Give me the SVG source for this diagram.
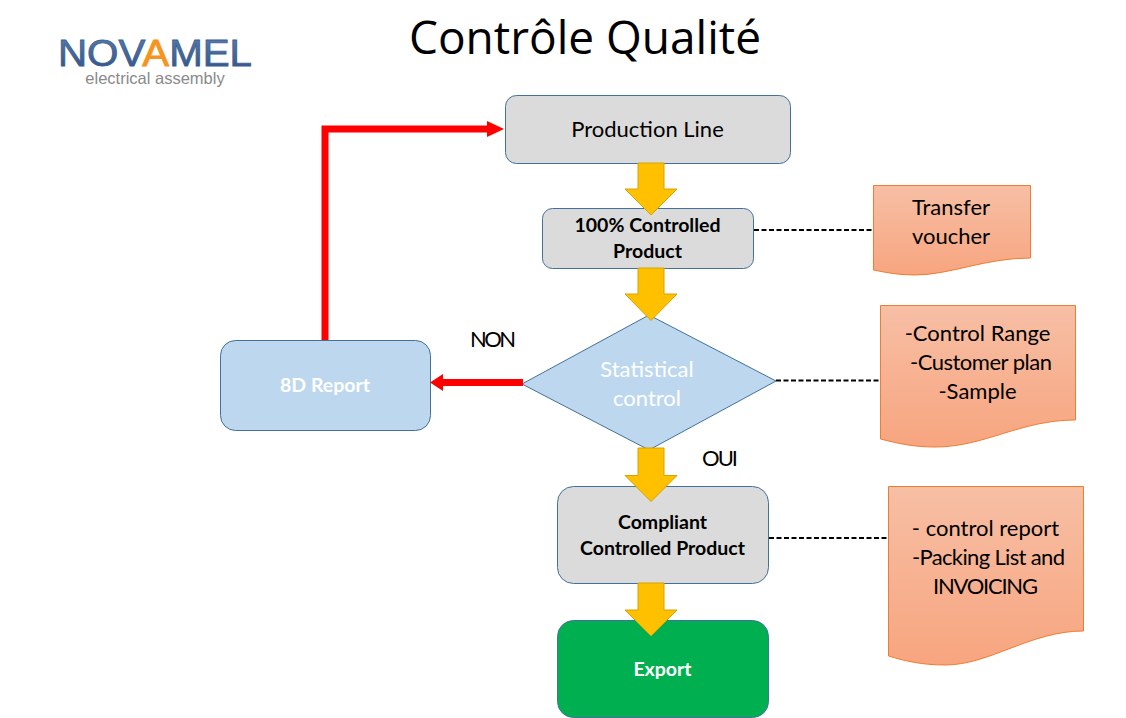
<svg xmlns="http://www.w3.org/2000/svg" width="1126" height="718" viewBox="0 0 1126 718">
<style>
text{font-family:Lato,"Liberation Sans",sans-serif;text-anchor:middle;fill:#000}
.n{fill:#dbdbdb;stroke:#41719c;stroke-width:1}
.b{fill:#bdd7ee;stroke:#41719c;stroke-width:1}
.d{fill:url(#g);stroke:#ed7d31;stroke-width:1}
.y{fill:#ffc000;stroke:#d6a300;stroke-width:1}
.t{font-size:22px}
.h{font-size:19.500px;font-weight:700}
.w{fill:#fff}
.k{stroke:#000;stroke-width:2;stroke-dasharray:5 2.500;fill:none}
</style>
<defs>
<linearGradient id="g" x1="0" y1="0" x2="0" y2="1"><stop offset="0" stop-color="#f7bfa5"/><stop offset="1" stop-color="#f7a57f"/></linearGradient>
<linearGradient id="lb" x1="0" y1="0" x2="0" y2="1"><stop offset="0" stop-color="#5b7fae"/><stop offset="1" stop-color="#2f4f85"/></linearGradient>
</defs>
<rect width="1126" height="718" fill="#fff"/>
<g id="title"><text x="585" y="54" style="font-family:'Open Sans',sans-serif;font-size:46px">Contrôle Qualité</text></g>
<g id="logo">
<text x="155" y="66" textLength="194" lengthAdjust="spacingAndGlyphs" style="font-family:'Liberation Sans',sans-serif;font-size:36px;fill:url(#lb);stroke:#3d5f92;stroke-width:.8">NOV<tspan fill="#f7941d" stroke="#f7941d">A</tspan>MEL</text>
<text x="155" y="84" style="font-family:'Liberation Sans',sans-serif;font-size:16.500px;fill:#8a8a8a">electrical assembly</text>
</g>
<g id="production"><rect class="n" x="505.500" y="95.500" width="285" height="68" rx="11"/><text class="t" x="647.500" y="137">Production Line</text></g>
<g id="controlled"><rect class="n" x="542.500" y="208.500" width="211" height="60" rx="10"/><text class="h" x="647.500" y="232">100% Controlled</text><text class="h" x="647.500" y="258">Product</text></g>
<g id="statistical"><path class="b" d="M649 315L776 381L649 450L522 384Z"/><text class="t w" x="647" y="377">Statistical</text><text class="t w" x="647" y="406">control</text></g>
<g id="report"><rect class="b" x="220.500" y="340.500" width="210" height="90" rx="15"/><text class="h w" x="325" y="392">8D Report</text></g>
<g id="compliant"><rect class="n" x="557.500" y="486.500" width="211" height="97" rx="16"/><text class="h" x="662.500" y="529">Compliant</text><text class="h" x="662.500" y="555">Controlled Product</text></g>
<g id="export"><rect x="557.500" y="620.500" width="211" height="97" rx="16" fill="#00b050" stroke="#41719c"/><text class="h w" x="662.500" y="676">Export</text></g>
<g id="doc1"><path class="d" d="M873.500 185.500H1030.500V258C985 258 950 275 915 275C900 275 888 273 873.500 270Z"/><text class="t" x="951" y="215">Transfer</text><text class="t" x="951" y="244">voucher</text></g>
<g id="doc2"><path class="d" d="M880.500 305.500H1075.500V420C1020 420 985 447 935 447C915 447 900 444 880.500 439Z"/><text class="t" x="977.500" y="341">-Control Range</text><text class="t" x="981" y="370" textLength="142">-Customer plan</text><text class="t" x="977.500" y="399">-Sample</text></g>
<g id="doc3"><path class="d" d="M888.500 486.500H1083.500V631C1030 631 990 665 945 665C922 665 905 661 888.500 656Z"/><text class="t" x="985.500" y="536">- control report</text><text class="t" x="988.500" y="565" textLength="153">-Packing List and</text><text class="t" x="985.500" y="594" textLength="105">INVOICING</text></g>
<g id="labels"><text class="t" x="493" y="347" textLength="46">NON</text><text class="t" x="720" y="466" textLength="36">OUI</text></g>
<g id="connectors">
<path class="y" d="M638 163H664V189H677L651 215L625 189H638Z"/>
<path class="y" d="M638 268H664V294H677L651 320.500L625 294H638Z"/>
<path class="y" d="M638 448H664V475.500H677L651 501.500L625 475.500H638Z"/>
<path class="y" d="M638 583H664V610H677L651 636L625 610H638Z"/>
<path d="M325 340V129H492" fill="none" stroke="#f00" stroke-width="7"/>
<path d="M487 121L504 129L487 137Z" fill="#f00"/>
<path d="M523 382.500H441" fill="none" stroke="#f00" stroke-width="7"/>
<path d="M443 374L430 382.500L443 391Z" fill="#f00"/>
<path class="k" d="M754 230H873"/>
<path class="k" d="M776 380.500H880"/>
<path class="k" d="M769 538H888"/>
</g>
</svg>
